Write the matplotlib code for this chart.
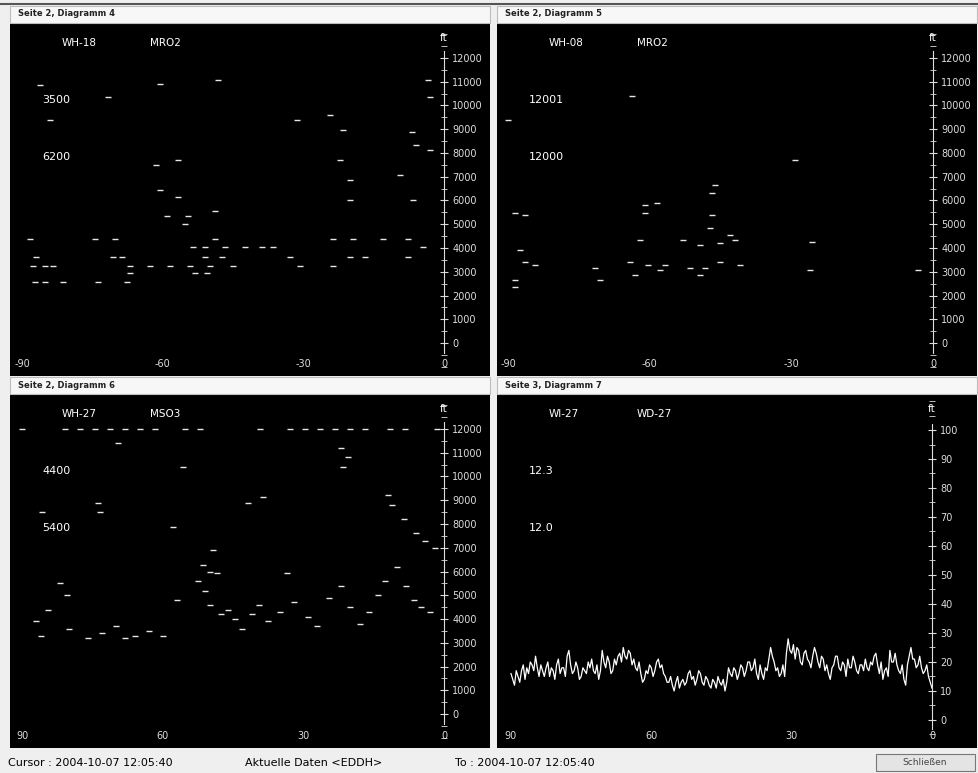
import numpy as np
import matplotlib.pyplot as plt
from matplotlib.patches import Rectangle
from matplotlib.ticker import MultipleLocator

# ---- data (minutes, feet) ----
# Seite 2, Diagramm 4
d4_min = [-86.2, -71.7, -60.6, -48.2, -3.4, -3.0, -31.3, -24.3, -21.5, -6.8, -84.0,
          -56.7, -61.4, -3.0, -6.0, -22.2, -20.0, -9.4, -60.6, -56.7, -6.6, -20.0,
          -59.0, -54.6, -48.8, -55.2, -88.3, -74.4, -70.2, -48.8, -23.7, -19.4, -13.0,
          -7.7, -53.5, -51.0, -46.7, -42.4, -38.8, -36.5, -4.5, -87.0, -70.6, -68.7,
          -51.0, -47.3, -32.8, -20.0, -16.8, -7.7, -87.7, -85.1, -83.4, -67.0, -62.7,
          -58.4, -54.2, -49.9, -45.0, -30.7, -23.7, -67.0, -53.1, -50.5, -87.2, -85.1,
          -81.3, -73.8, -67.6]
d4_ft = [10860, 10360, 10900, 11070, 11070, 10360, 9390, 9600, 8970, 8880, 9390,
         7700, 7490, 8130, 8340, 7700, 6860, 7070, 6440, 6150, 6020, 6020,
         5360, 5360, 5560, 5000, 4400, 4400, 4400, 4400, 4400, 4400, 4400,
         4400, 4040, 4040, 4040, 4040, 4040, 4040, 4040, 3640, 3640, 3640,
         3640, 3640, 3640, 3640, 3640, 3640, 3240, 3240, 3240, 3240, 3240,
         3240, 3240, 3240, 3240, 3240, 3240, 2960, 2960, 2960, 2560, 2560,
         2560, 2560, 2560]

# Seite 2, Diagramm 5
d5_min = [-63.7, -90.0, -29.2, -46.2, -46.8, -61.0, -58.5, -46.8, -88.5, -86.4, -61.0,
          -47.2, -43.0, -62.0, -52.9, -49.3, -45.1, -41.9, -25.6, -87.5, -86.4, -84.3,
          -71.6, -64.2, -60.4, -56.8, -51.5, -48.3, -45.1, -40.9, -26.0, -3.2, -88.5,
          -70.6, -63.1, -57.8, -49.3, -88.5]
d5_ft = [10400, 9390, 7700, 6650, 6320, 5810, 5890, 5390, 5470, 5390, 5470,
         4840, 4550, 4340, 4340, 4130, 4210, 4340, 4250, 3920, 3410, 3280,
         3160, 3410, 3280, 3280, 3160, 3160, 3410, 3280, 3070, 3070, 2650,
         2650, 2860, 3070, 2860, 2360]

# Seite 2, Diagramm 6 (minutes ago)
d6_min = [90.0, 80.8, 77.6, 74.4, 71.2, 68.0, 64.8, 61.6, 55.2, 52.0, 39.2, 32.8,
          29.6, 26.4, 23.2, 20.0, 16.8, 11.5, 8.3, 1.5,
          69.5, 55.7, 73.8, 73.4, 85.7, 41.8, 38.6, 57.8, 49.3, 51.4, 49.9, 48.4, 33.5,
          22.0, 20.5, 21.5, 12.0, 11.0, 8.5, 6.0, 4.0, 2.0,
          82.0, 80.5, 84.5, 87.0, 86.0, 80.0, 76.0, 73.0, 70.0, 68.0, 66.0, 63.0, 60.0,
          57.0, 52.5, 51.0, 50.0, 47.5, 46.0, 44.5, 43.0, 41.0, 39.5, 37.5, 35.0, 32.0,
          29.0, 27.0, 24.5, 22.0, 20.0, 18.0, 16.0, 14.0, 12.5, 10.0, 8.0, 6.5, 5.0, 3.0]
d6_ft = [12000, 12000, 12000, 12000, 12000, 12000, 12000, 12000, 12000, 12000, 12000, 12000,
         12000, 12000, 12000, 12000, 12000, 12000, 12000, 12000,
         11400, 10400, 8880, 8500, 8500, 8880, 9140, 7870, 6900, 6270, 5980, 5940, 5940,
         11200, 10800, 10400, 9200, 8800, 8200, 7600, 7300, 7000,
         5500, 5000, 4400, 3900, 3300, 3600, 3200, 3400, 3700, 3200, 3300, 3500, 3300,
         4800, 5600, 5200, 4600, 4200, 4400, 4000, 3600, 4200, 4600, 3900, 4300, 4700,
         4100, 3700, 4900, 5400, 4500, 3800, 4300, 5000, 5600, 6200, 5400, 4800, 4500, 4300]

# Seite 3, Diagramm 7 (minutes ago, percent)
d7_vals = [16, 14, 12, 17, 15, 13, 17, 19, 14, 18, 16, 20, 19, 17, 22, 18, 15, 19, 17, 15,
           18, 20, 15, 18, 17, 14, 19, 21, 16, 18, 18, 15, 22, 24, 19, 16, 17, 20, 18, 14,
           15, 18, 17, 16, 20, 18, 21, 17, 16, 19, 14, 17, 24, 20, 18, 22, 20, 16, 17, 21,
           19, 22, 23, 20, 25, 22, 21, 24, 23, 19, 21, 18, 17, 20, 16, 13, 14, 17, 16, 19,
           18, 15, 17, 20, 21, 18, 19, 16, 15, 13, 13, 15, 12, 10, 13, 15, 11, 13, 14, 12,
           13, 16, 17, 14, 15, 12, 14, 17, 16, 13, 12, 15, 14, 12, 11, 14, 13, 11, 15, 13,
           12, 14, 10, 13, 18, 16, 15, 18, 17, 14, 16, 19, 18, 15, 17, 20, 20, 17, 18, 21,
           16, 14, 19, 16, 14, 18, 17, 21, 25, 22, 20, 17, 18, 15, 16, 19, 15, 23, 28, 24,
           23, 26, 21, 25, 24, 20, 19, 23, 24, 21, 20, 18, 22, 25, 23, 20, 18, 22, 21, 17,
           19, 16, 14, 18, 19, 22, 22, 18, 17, 20, 19, 15, 21, 18, 18, 22, 20, 17, 16, 19,
           19, 17, 21, 18, 17, 20, 19, 22, 23, 19, 16, 20, 14, 17, 18, 15, 24, 20, 20, 23,
           19, 17, 16, 19, 14, 12, 19, 22, 25, 21, 21, 18, 19, 22, 18, 16, 17, 19, 15, 13, 11]
d7_min = np.linspace(90, 0, len(d7_vals))

ft_ticks = list(range(0, 13000, 1000))
pct_ticks = list(range(0, 101, 10))
min_ticks_neg = [-90, -60, -30, 0]
min_ticks_pos = [90, 60, 30, 0]

W, H = 979, 773
BG = '#efefef'
fig = plt.figure(figsize=(W / 100, H / 100), dpi=100, facecolor=BG)


def box(x0, y0, x1, y1):
    return [x0 / W, 1 - y1 / H, (x1 - x0) / W, (y1 - y0) / H]


def frame(x0, y0, x1, y1, fc, ec):
    fig.patches.append(Rectangle((x0 / W, 1 - y1 / H), (x1 - x0) / W, (y1 - y0) / H,
                                 transform=fig.transFigure, fc=fc, ec=ec, lw=0.8))


def panel(rect, xlim, ylim, yticks, ybounds, yminor, xticks, names, values):
    ax = fig.add_axes(box(*rect))
    ax.set_facecolor('black')
    ax.set_xlim(xlim)
    ax.set_ylim(ylim)
    for s in ['top', 'left', 'bottom']:
        ax.spines[s].set_visible(False)
    ax.spines['right'].set_position(('data', 0))
    ax.spines['right'].set_color('#dddddd')
    ax.spines['right'].set_bounds(*ybounds)
    ax.yaxis.tick_right()
    ax.set_yticks(yticks)
    ax.yaxis.set_minor_locator(MultipleLocator(yminor))
    ax.tick_params(axis='y', which='both', colors='#dddddd', direction='inout',
                   labelsize=7, pad=3)
    ax.tick_params(axis='y', which='major', length=6)
    ax.tick_params(axis='y', which='minor', length=4)
    ax.set_xticks(xticks)
    ax.set_xticklabels([str(t) for t in xticks])
    ax.tick_params(axis='x', colors='#dddddd', length=0, labelsize=7, pad=-12.5)
    ax.text(0, 1 - 14 / 352, 'ft', color='white', fontsize=7.5, ha='center',
            va='center', transform=ax.get_xaxis_transform())
    # series names and current values
    ax.text(52 / 480, 1 - 19 / 352, names[0], color='white', fontsize=7.5,
            transform=ax.transAxes, va='center')
    ax.text(140 / 480, 1 - 19 / 352, names[1], color='white', fontsize=7.5,
            transform=ax.transAxes, va='center')
    ax.text(32 / 480, 1 - 76 / 352, values[0], color='white', fontsize=8,
            transform=ax.transAxes, va='center')
    ax.text(32 / 480, 1 - 133 / 352, values[1], color='white', fontsize=8,
            transform=ax.transAxes, va='center')
    return ax


# title bars and outer frame
fig.add_artist(plt.Line2D([0, 1], [1 - 4 / H, 1 - 4 / H], color='#555555', lw=1.5))
for x0, x1 in [(10, 490), (497, 977)]:
    frame(x0, 6, x1, 23, '#f7f7f7', '#bdbdbd')
    frame(x0, 377, x1, 394, '#f7f7f7', '#bdbdbd')
titles = [(18, 14, 'Seite 2, Diagramm 4'), (505, 14, 'Seite 2, Diagramm 5'),
          (18, 386, 'Seite 2, Diagramm 6'), (505, 386, 'Seite 3, Diagramm 7')]
for x, y, t in titles:
    fig.text(x / W, 1 - y / H, t, fontsize=6, color='#222222', va='center',
             fontweight='bold')

mk = dict(ls='none', marker='_', ms=4.5, mew=1.0, color='#e6e6e6')

ax4 = panel((10, 24, 490, 376), (-92.56, 9.81), (-1389, 13431), ft_ticks,
            (-400, 12300), 500, min_ticks_neg, ('WH-18', 'MRO2'), ('3500', '6200'))
ax4.plot(d4_min, d4_ft, **mk)

ax5 = panel((497, 24, 977, 376), (-92.33, 9.32), (-1389, 13431), ft_ticks,
            (-400, 12300), 500, min_ticks_neg, ('WH-08', 'MRO2'), ('12001', '12000'))
ax5.plot(d5_min, d5_ft, **mk)

ax6 = panel((10, 395, 490, 748), (92.56, -9.81), (-1431, 13431), ft_ticks,
            (-400, 12300), 500, min_ticks_pos, ('WH-27', 'MSO3'), ('4400', '5400'))
ax6.plot(d6_min, d6_ft, **mk)

ax7 = panel((497, 395, 977, 748), (92.99, -9.62), (-9.66, 112.07), pct_ticks,
            (-3, 102), 5, min_ticks_pos, ('WI-27', 'WD-27'), ('12.3', '12.0'))
ax7.plot(d7_min, d7_vals, color='white', lw=0.9)

# status bar
fig.text(8 / W, 1 - 763 / H, 'Cursor : 2004-10-07 12:05:40', fontsize=8, va='center')
fig.text(245 / W, 1 - 763 / H, 'Aktuelle Daten <EDDH>', fontsize=8, va='center')
fig.text(455 / W, 1 - 763 / H, 'To : 2004-10-07 12:05:40', fontsize=8, va='center')
frame(876, 754, 975, 771, '#e4e4e4', '#777777')
fig.text(925 / W, 1 - 762.5 / H, 'Schließen', fontsize=6.5, ha='center', va='center',
         color='#444444')

fig.savefig('out.png', dpi=100, facecolor=BG)
